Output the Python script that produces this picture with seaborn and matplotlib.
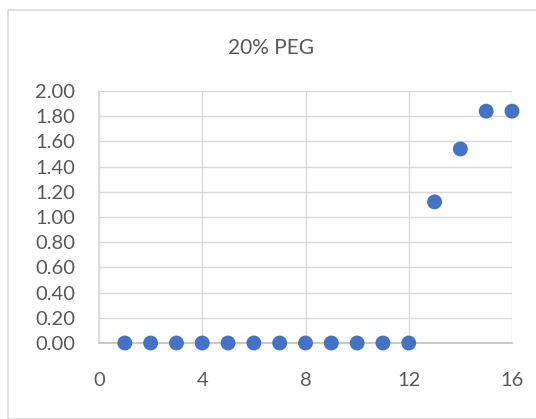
import matplotlib
matplotlib.use("Agg")
import matplotlib.pyplot as plt
import seaborn as sns
import pandas as pd
from matplotlib.patches import Rectangle

x_vals = [1, 2, 3, 4, 5, 6, 7, 8, 9, 10, 11, 12, 13, 14, 15, 16]
y_vals = [0, 0, 0, 0, 0, 0, 0, 0, 0, 0, 0, 0, 1.12, 1.54, 1.84, 1.84]
x_ticks = [0, 4, 8, 12, 16]
y_ticks = [0.0, 0.2, 0.4, 0.6, 0.8, 1.0, 1.2, 1.4, 1.6, 1.8, 2.0]
title = "20% PEG"

sns.set_theme(style="white")
plt.rcParams['font.family'] = ['Lato', 'DejaVu Sans']

df = pd.DataFrame({"x": x_vals, "y": y_vals})
fig = plt.figure(figsize=(5.36, 4.19), dpi=100)
fig.patches.append(Rectangle((8/536, 0), 1.0, 1 - 10/419, transform=fig.transFigure,
                             fill=False, edgecolor="#d9d9d9", linewidth=1.2))
ax = fig.add_axes([99/536, 1 - 343/419, 413/536, 252/419])
sns.scatterplot(data=df, x="x", y="y", ax=ax, color="#4472C4", s=115,
                edgecolor="none", zorder=3, clip_on=False)
ax.set_xlim(0, 16)
ax.set_ylim(0, 2.0)
ax.set_xticks(x_ticks)
ax.set_yticks(y_ticks)
ax.set_yticklabels([f"{v:.2f}" for v in y_ticks])
ax.grid(True, color="#d9d9d9", linewidth=1.0)
ax.set_axisbelow(True)
for s in ["top", "right"]:
    ax.spines[s].set_visible(False)
ax.spines["left"].set_color("#d9d9d9")
ax.spines["bottom"].set_color("#bfbfbf")
ax.spines["bottom"].set_linewidth(1.2)
ax.tick_params(axis="both", length=0, labelsize=14.5, colors="#595959")
ax.tick_params(axis="x", pad=21)
ax.tick_params(axis="y", pad=17)
ax.set_xlabel("")
ax.set_ylabel("")
fig.text(271/536, 1 - 48/419, title, ha="center", va="center", fontsize=15, color="#595959")
fig.savefig("out.png", dpi=100)
